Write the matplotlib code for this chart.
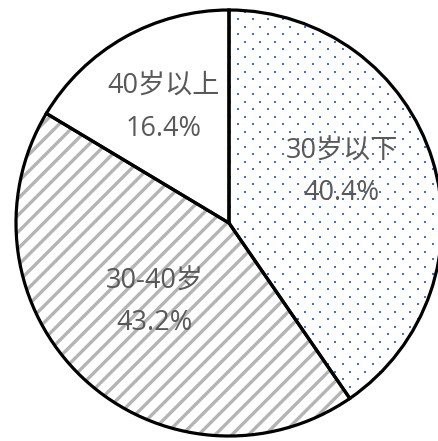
import numpy as np
import matplotlib
matplotlib.use("Agg")
import matplotlib.pyplot as plt

plt.rcParams['font.family'] = ['Open Sans', 'Noto Sans CJK SC', 'DejaVu Sans']
plt.rcParams['hatch.linewidth'] = 2.4

groups = ["30岁以下", "30-40岁", "40岁以上"]
shares = [40.4, 43.2, 16.4]
pct_labels = ["40.4%", "43.2%", "16.4%"]

W, H = 439, 441
cx, cy, R = 229, 223, 213          # pie centre and radius in pixels
label_r = [0.58, 0.51, 0.62]        # label distance from centre, per wedge
label_turn = [7, 0, 0]              # extra rotation (deg) of each label from wedge middle

fig = plt.figure(figsize=(W / 100, H / 100), dpi=100)
ax = fig.add_axes([0, 0, 1, 1])

# fills: white / grey stripes / white
fills, _ = ax.pie(shares, startangle=90, counterclock=False, radius=1,
                  colors=["white", "white", "white"],
                  wedgeprops=dict(linewidth=0))
fills[1].set_hatch("//")
fills[1].set_edgecolor("#b4b4b4")
fills[1].set_linewidth(0)

# blue dot texture on the first wedge
px = 1 / R
xs, ys = [], []
row = 0
for yy in np.arange(-1.05, 1.05, 7.5 * px):
    off = 7.5 * px if row % 2 else 0
    for xx in np.arange(-1.05 + off, 1.05, 15 * px):
        xs.append(xx)
        ys.append(yy)
    row += 1
dots = ax.scatter(xs, ys, s=2.2, color="#4472c4", marker="s", linewidths=0, zorder=2)
dots.set_clip_path(fills[0])

# black outlines on top
outl, _ = ax.pie(shares, startangle=90, counterclock=False, radius=1,
                 colors=["none"] * 3,
                 wedgeprops=dict(linewidth=2.3, edgecolor="black", fill=False))
for w in outl:
    w.set_zorder(3)

# labels at wedge mid-angles
theta = 90.0
for name, val, pl, r, turn in zip(groups, shares, pct_labels, label_r, label_turn):
    span = val / sum(shares) * 360
    mid = np.deg2rad(theta - span / 2 + turn)
    theta -= span
    x, y = r * np.cos(mid), r * np.sin(mid)
    ax.text(x, y + 21 * px, name, ha="center", va="center", fontsize=19.5,
            color="#595959", zorder=4)
    ax.text(x, y - 21 * px, pl, ha="center", va="center", fontsize=19.5,
            color="#595959", zorder=4)

ax.set_aspect("auto")
ax.set_xlim(-cx / R, (W - cx) / R)
ax.set_ylim(-(H - cy) / R, cy / R)
ax.axis("off")

fig.savefig("out.png", dpi=100)
